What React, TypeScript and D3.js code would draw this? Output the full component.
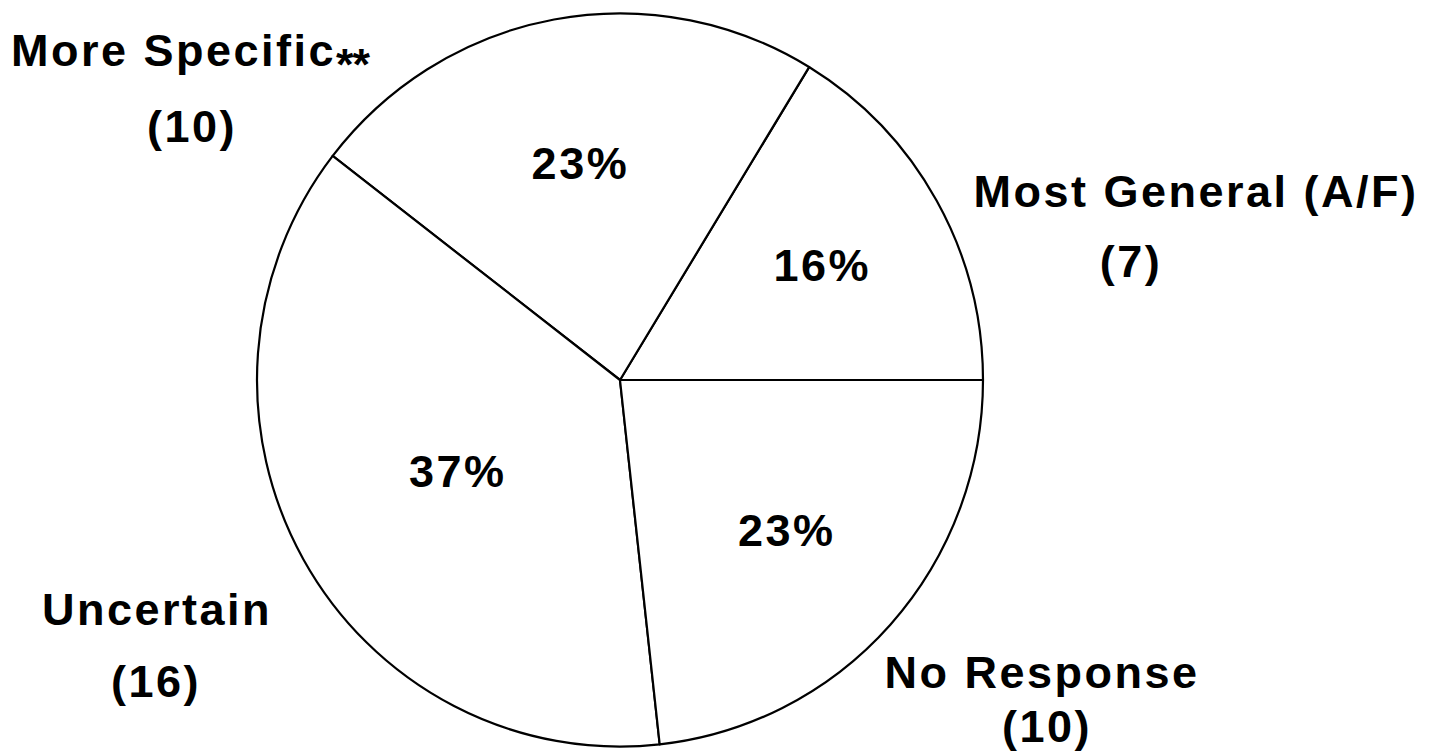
import React from "react";
import * as d3 from "d3";

// ---- data ----
const categories = ["Most General (A/F)", "More Specific**", "Uncertain", "No Response"];
const counts = [7, 10, 16, 10];

// ---- layout (not data) ----
const W = 1438;
const H = 751;
const CX = 620;
const CY = 380;
const R = 363;
const SY = 1.01; // slight vertical stretch of the scanned circle
const FONT = "'Liberation Sans', Arial, Helvetica, sans-serif";
const FS = 45;
const LS = 2.5;

// radius at which each percentage label sits (same order as categories)
const pctLabelRadius = [232, 218, 186, 224];
// outer label anchor points: [nameX, nameY, countX, countY]
const outerLabelPos: [number, number, number, number][] = [
  [1196, 207, 1131, 277],
  [190, 66, 192, 142],
  [157, 625, 156, 697],
  [1042, 688, 1047, 742],
];

export default function App() {
  const total = d3.sum(counts);
  const pie = d3
    .pie<number>()
    .sort(null)
    .value((d) => d)
    .startAngle(Math.PI / 2)
    .endAngle(Math.PI / 2 - 2 * Math.PI);
  const arcs = pie(counts);
  const arc = d3.arc<d3.PieArcDatum<number>>().innerRadius(0).outerRadius(R);

  const textStyle: React.CSSProperties = {
    fontFamily: FONT,
    fontWeight: 700,
    fontSize: FS,
    letterSpacing: LS,
  };

  return (
    <div style={{ position: "absolute", left: 0, top: 0 }}>
      <svg width={W} height={H} viewBox={`0 0 ${W} ${H}`} style={{ display: "block", background: "#fff" }}>
        <rect width={W} height={H} fill="#fff" />
        <g transform={`translate(${CX},${CY}) scale(1,${SY})`}>
          {arcs.map((a, i) => (
            <path
              key={i}
              d={arc(a) || ""}
              fill="#fff"
              stroke="#000"
              strokeWidth={2.2}
              strokeLinejoin="round"
            />
          ))}
        </g>
        <g>
          {arcs.map((a, i) => {
            const mid = (a.startAngle + a.endAngle) / 2;
            const r = pctLabelRadius[i];
            const x = CX + r * Math.sin(mid);
            const y = CY - r * Math.cos(mid) * SY;
            const pct = Math.round((a.value / total) * 100);
            return (
              <text key={i} x={x} y={y} textAnchor="middle" dominantBaseline="central" style={textStyle} fill="#000">
                {pct}%
              </text>
            );
          })}
        </g>
        <g>
          {categories.map((c, i) => {
            const [nx, ny, cx, cy] = outerLabelPos[i];
            const hasStars = c.endsWith("**");
            const base = hasStars ? c.slice(0, -2) : c;
            return (
              <g key={c}>
                <text x={nx} y={ny} textAnchor="middle" style={textStyle} fill="#000">
                  {base}
                  {hasStars ? (
                    <tspan dy={14} style={{ letterSpacing: -1 }}>
                      **
                    </tspan>
                  ) : null}
                </text>
                <text x={cx} y={cy} textAnchor="middle" style={textStyle} fill="#000">
                  ({counts[i]})
                </text>
              </g>
            );
          })}
        </g>
      </svg>
    </div>
  );
}
